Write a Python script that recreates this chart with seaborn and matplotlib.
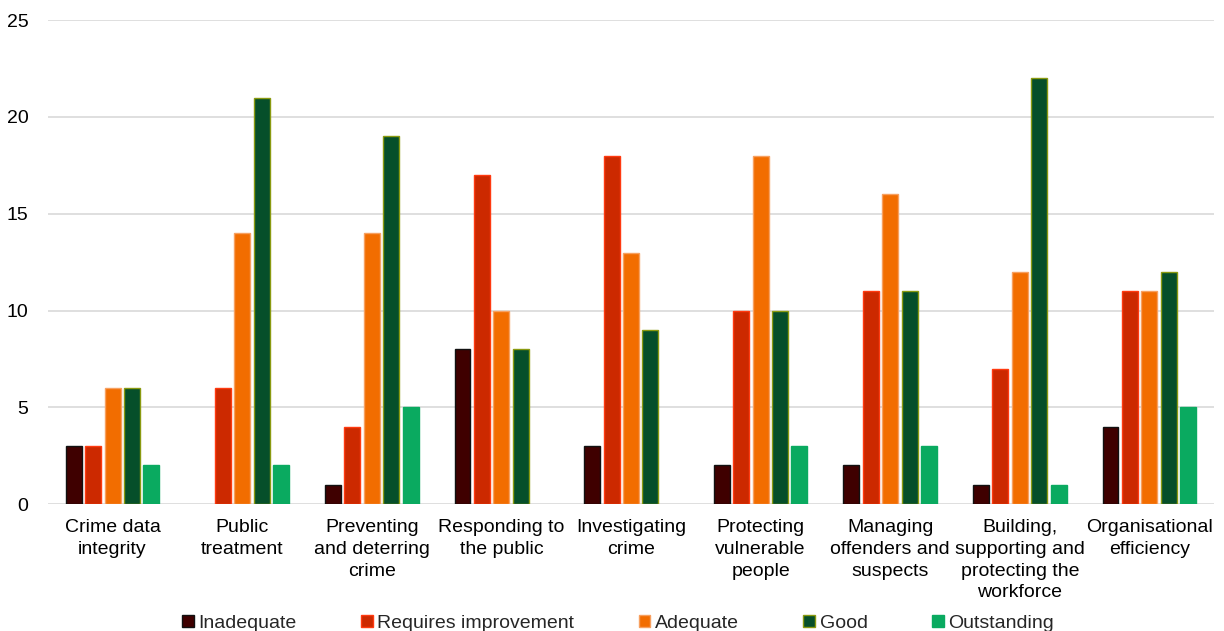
import pandas as pd
import matplotlib
matplotlib.use('Agg')
import matplotlib.pyplot as plt
import seaborn as sns

# Category labels (wrapped as in the chart)
areas = ['Crime data\nintegrity', 'Public\ntreatment', 'Preventing\nand deterring\ncrime',
         'Responding to\nthe public', 'Investigating\ncrime', 'Protecting\nvulnerable\npeople',
         'Managing\noffenders and\nsuspects', 'Building,\nsupporting and\nprotecting the\nworkforce',
         'Organisational\nefficiency']
grades = ['Inadequate', 'Requires improvement', 'Adequate', 'Good', 'Outstanding']

inadequate = [3, 0, 1, 8, 3, 2, 2, 1, 4]
requires_improvement = [3, 6, 4, 17, 18, 10, 11, 7, 11]
adequate = [6, 14, 14, 10, 13, 18, 16, 12, 11]
good = [6, 21, 19, 8, 9, 10, 11, 22, 12]
outstanding = [2, 2, 5, 0, 0, 3, 3, 1, 5]

fills = ['#3f0000', '#cc2900', '#f26d00', '#064f2a', '#0aaa60']
edges = ['#111111', '#ff3a10', '#f7a060', '#8a9a10', '#0aaa60']

rows = []
for g, vals in zip(grades, [inadequate, requires_improvement, adequate, good, outstanding]):
    for a, v in zip(areas, vals):
        rows.append({'Area': a, 'Grade': g, 'Count': v})
df = pd.DataFrame(rows)
df = df[df.Count > 0]

sns.set_style('white')
plt.rcParams['font.family'] = ['Liberation Sans', 'DejaVu Sans']

fig = plt.figure(figsize=(12.24, 6.31), dpi=100)
ax = fig.add_axes([0.039, 0.201, 0.953, 0.767])

sns.barplot(data=df, x='Area', y='Count', hue='Grade', order=areas, hue_order=grades,
            palette=fills, saturation=1, width=0.75, gap=0.18, ax=ax, errorbar=None, zorder=3)

# edge colours per grade
for cont, ec in zip(ax.containers, edges):
    for bar in cont:
        bar.set_edgecolor(ec)
        bar.set_linewidth(1.0)

ax.set_ylim(0, 25)
ax.set_yticks(range(0, 26, 5))
ax.set_xlim(-0.5, len(areas) - 0.5)
ax.yaxis.grid(True, color='#d9d9d9', linewidth=1.2, zorder=0)
ax.set_axisbelow(True)
for s in ax.spines.values():
    s.set_visible(False)
ax.tick_params(axis='both', length=0, labelsize=14, colors='black')
ax.tick_params(axis='y', pad=14)
ax.tick_params(axis='x', pad=11)
for t in ax.get_xticklabels():
    t.set_linespacing(1.35)
ax.set_xlabel('')
ax.set_ylabel('')

handles, labels = ax.get_legend_handles_labels()
for h, ec in zip(handles, edges):
    h.set_edgecolor(ec)
ax.legend(handles, labels, loc='lower center', bbox_to_anchor=(0.489, -0.3), ncol=5,
          frameon=False, fontsize=14, handlelength=0.6, handleheight=0.6,
          handletextpad=0.25, columnspacing=3.3)

fig.savefig('out.png', dpi=100)
